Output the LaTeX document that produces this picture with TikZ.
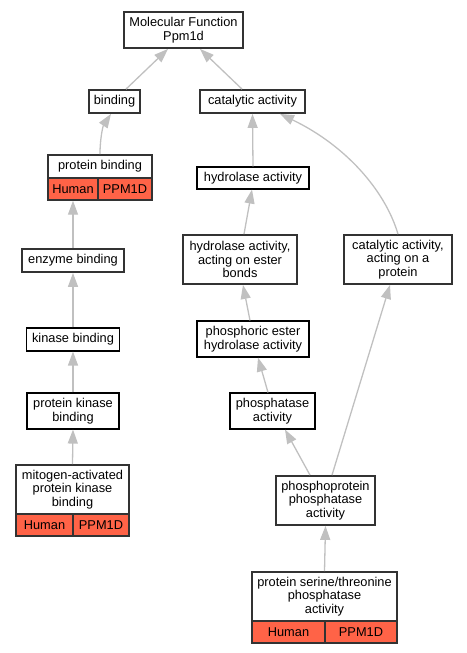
\documentclass[tikz,border=0pt]{standalone}
\usepackage{fontspec}
\setmainfont{Liberation Sans}
\usetikzlibrary{arrows.meta}
\definecolor{edgegray}{HTML}{C0C0C0}
\definecolor{cellred}{HTML}{FF6347}
\definecolor{boxdark}{HTML}{333333}
\begin{document}
\begin{tikzpicture}[x=1bp,y=-1bp,
  term/.style={draw=black, fill=white, line width=1.1bp, inner sep=0pt, align=center,
    font=\fontsize{12.8bp}{13.5bp}\selectfont},
  termdark/.style={term, draw=boxdark, line width=1.8bp},
  cell/.style={draw=boxdark, fill=cellred, line width=1.4bp, inner sep=0pt,
    minimum height=22bp, font=\fontsize{12.8bp}{13.5bp}\selectfont},
  edge/.style={draw=edgegray, line width=1.3bp, -{Triangle[length=14bp,width=10bp]}}
]
\useasboundingbox (0,0) rectangle (467,653);
% nodes
\node[termdark, minimum width=119bp, minimum height=36bp] (mf) at (183.5,30) {Molecular Function\\Ppm1d};
\node[termdark, minimum width=51bp, minimum height=23bp] (bind) at (114.5,101.5) {binding};
\node[termdark, minimum width=105bp, minimum height=23bp] (cat) at (252.5,101.5) {catalytic activity};
% protein binding
\node[termdark, minimum width=104bp, minimum height=23bp] (pb) at (100,166.5) {protein binding};
\node[cell, minimum width=50bp] (pbh) at (73,189) {Human};
\node[cell, minimum width=54bp] (pbp) at (125,189) {PPM1D};
\node[termdark, minimum width=102bp, minimum height=23bp] (enz) at (73,260.5) {enzyme binding};
\node[term, minimum width=93bp, minimum height=23bp] (kin) at (73,339.5) {kinase binding};
\node[term, minimum width=92bp, minimum height=36bp] (pkb) at (73,411) {protein kinase\\binding};
% mapk
\node[termdark, minimum width=113bp, minimum height=49bp] (mapk) at (72.5,489.5) {mitogen-activated\\protein kinase\\binding};
\node[cell, minimum width=57bp] (mapkh) at (44.5,525) {Human};
\node[cell, minimum width=56bp] (mapkp) at (101,525) {PPM1D};
% right branch
\node[term, minimum width=112bp, minimum height=22bp] (hyd) at (253,178) {hydrolase activity};
\node[termdark, minimum width=114bp, minimum height=49bp] (hydest) at (240,259.5) {hydrolase activity,\\acting on ester\\bonds};
\node[termdark, minimum width=108bp, minimum height=49bp] (catprot) at (398,259.5) {catalytic activity,\\acting on a\\protein};
\node[term, minimum width=112bp, minimum height=36bp] (phest) at (253,339) {phosphoric ester\\hydrolase activity};
\node[term, minimum width=85bp, minimum height=36bp] (phos) at (272.5,411) {phosphatase\\activity};
\node[termdark, minimum width=99bp, minimum height=49bp] (ppp) at (325.5,500.5) {phosphoprotein\\phosphatase\\activity};
\node[termdark, minimum width=145bp, minimum height=49bp] (pst) at (324.5,596.5) {protein serine/threonine\\phosphatase\\activity};
\node[cell, minimum width=73bp] (psth) at (288.5,632) {Human};
\node[cell, minimum width=72bp] (pstp) at (361,632) {PPM1D};
% edges
\draw[edge] ([xshift=11.5bp]bind.north) -- ([xshift=-15.5bp]mf.south);
\draw[edge] ([xshift=-10.5bp]cat.north) -- ([xshift=16.5bp]mf.south);
\draw[edge] (pb.north) .. controls (100,138) and (103,126) .. ([xshift=-3.5bp]bind.south);
\draw[edge] (enz.north) -- (pbh.south);
\draw[edge] (kin.north) -- (enz.south);
\draw[edge] (pkb.north) -- (kin.south);
\draw[edge] (mapk.north) -- (pkb.south);
\draw[edge] (hyd.north) -- (cat.south);
\draw[edge] (catprot.north) .. controls (385,190) and (345,145) .. ([xshift=27.5bp]cat.south);
\draw[edge] ([xshift=4bp]hydest.north) -- ([xshift=-1bp]hyd.south);
\draw[edge] ([xshift=-3bp]phest.north) -- ([xshift=3bp]hydest.south);
\draw[edge] ([xshift=-4.5bp]phos.north) -- ([xshift=5bp]phest.south);
\draw[edge] ([xshift=-15.5bp]ppp.north) -- ([xshift=12.5bp]phos.south);
\draw[edge] ([xshift=6.5bp]ppp.north) -- ([xshift=-8bp]catprot.south);
\draw[edge] (pst.north) -- (ppp.south);
\end{tikzpicture}
\end{document}
